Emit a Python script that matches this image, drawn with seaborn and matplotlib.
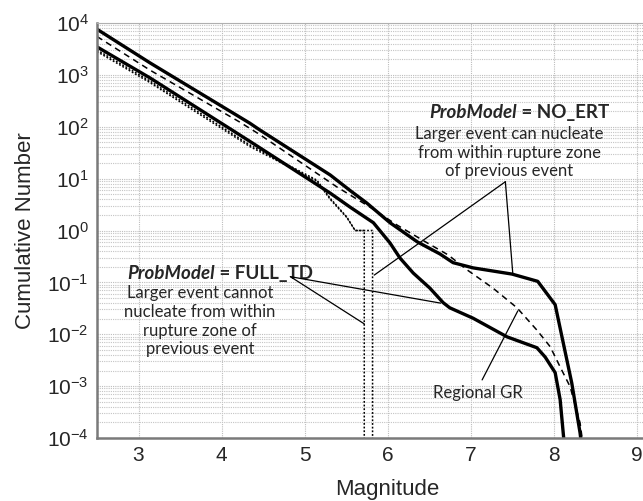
import numpy as np
import pandas as pd
import matplotlib
matplotlib.use("Agg")
import matplotlib.pyplot as plt
import seaborn as sns
from matplotlib.ticker import LogLocator, NullFormatter

# magnitude / log10(cumulative number)
no_ert_mag = [2.5, 3.14, 4.34, 4.46, 5.31, 5.55, 5.75, 6.03, 6.36, 6.63, 6.79, 7.03, 7.5, 7.81, 8.02, 8.11, 8.22, 8.32, 8.35]
no_ert_log = [3.88, 3.23, 2.07, 1.94, 1.07, 0.77, 0.53, 0.15, -0.22, -0.45, -0.62, -0.72, -0.84, -0.98, -1.43, -2.11, -2.94, -3.9, -4.3]

gr_mag = [2.5, 3.14, 4.22, 4.46, 5.39, 5.79, 6.11, 6.48, 6.73, 6.96, 7.27, 7.56, 7.80, 7.96, 8.08, 8.2, 8.32, 8.37]
gr_log = [3.74, 3.09, 2.09, 1.85, 0.84, 0.45, 0.11, -0.24, -0.47, -0.76, -1.11, -1.49, -1.92, -2.24, -2.63, -3.01, -3.71, -4.3]

full_td_mag = [2.5, 3.14, 4.34, 5.31, 5.55, 5.83, 6.03, 6.15, 6.31, 6.51, 6.67, 6.75, 7.03, 7.44, 7.80, 7.90, 8.02, 8.08, 8.14]
full_td_log = [3.54, 2.94, 1.72, 0.72, 0.45, 0.15, -0.24, -0.53, -0.82, -1.11, -1.39, -1.49, -1.69, -2.05, -2.26, -2.44, -2.74, -3.26, -4.3]

# two simulated catalogs (dotted), last event at M5.72 and M5.82
sim1_mag = [2.5, 3.14, 4.34, 5.15, 5.31, 5.51, 5.61, 5.72, 5.72]
sim1_log = [3.48, 2.88, 1.65, 0.97, 0.62, 0.26, 0.0, 0.0, -6.0]
sim2_mag = [2.5, 3.14, 4.34, 5.15, 5.31, 5.51, 5.61, 5.82, 5.82]
sim2_log = [3.45, 2.85, 1.62, 0.95, 0.60, 0.25, 0.0, 0.0, -6.0]

x_ticks = [3, 4, 5, 6, 7, 8, 9]

sns.set_style("white")
plt.rcParams['font.family'] = ['Liberation Sans', 'DejaVu Sans']
ann_font = ['Lato', 'DejaVu Sans']

fig = plt.figure(figsize=(6.43, 5.01), dpi=100)
ax = fig.add_axes([97 / 643, 63 / 501, 581 / 643, 415 / 501])


def draw(mag, logn, **kw):
    df = pd.DataFrame({'mag': mag, 'n': 10.0 ** np.array(logn)})
    sns.lineplot(data=df, x='mag', y='n', ax=ax, estimator=None, sort=False, **kw)


draw(sim1_mag, sim1_log, color='black', lw=1.1, linestyle=(0, (1.2, 1.2)))
draw(sim2_mag, sim2_log, color='black', lw=1.1, linestyle=(0, (1.2, 1.2)))
draw(gr_mag, gr_log, color='black', lw=1.1, linestyle=(0, (4, 3)))
draw(no_ert_mag, no_ert_log, color='black', lw=2.4)
draw(full_td_mag, full_td_log, color='black', lw=2.4)

ax.set_yscale('log')
ax.set_xlim(2.5, 9.5)
ax.set_ylim(1e-4, 1e4)
ax.set_xticks(x_ticks)
ax.yaxis.set_major_locator(LogLocator(base=10, numticks=20))
ax.yaxis.set_minor_locator(LogLocator(base=10, subs=np.arange(2, 10), numticks=20))
ax.yaxis.set_minor_formatter(NullFormatter())
ax.grid(which='major', color='#bdbdbd', lw=0.8, linestyle=(0, (1, 1)))
ax.grid(which='minor', axis='y', color='#c4c4c4', lw=0.8, linestyle=(0, (1, 1)))
ax.tick_params(axis='both', which='both', length=0, labelsize=15, pad=6)
for s in ['left', 'bottom']:
    ax.spines[s].set_color('#7a7a7a')
    ax.spines[s].set_linewidth(1.8)
for s in ['top', 'right']:
    ax.spines[s].set_color('#b0b0b0')
    ax.spines[s].set_linewidth(0.8)

ax.set_xlabel('Magnitude', fontsize=16, labelpad=10)
ax.set_ylabel('Cumulative Number', fontsize=16, labelpad=8)

# annotations
title_kw = dict(va='center', fontsize=13.5, family=ann_font, fontweight='bold')
body_kw = dict(ha='center', va='center', fontsize=12, family=ann_font, linespacing=1.2)

ax.text(7.56, 10 ** 2.27, 'ProbModel', ha='right', fontstyle='italic', **title_kw)
ax.text(7.56, 10 ** 2.27, ' = NO_ERT', ha='left', **title_kw)
ax.text(7.47, 10 ** 1.50, 'Larger event can nucleate\nfrom within rupture zone\nof previous event', **body_kw)

ax.text(3.92, 10 ** -0.82, 'ProbModel', ha='right', fontstyle='italic', **title_kw)
ax.text(3.92, 10 ** -0.82, ' = FULL_TD', ha='left', **title_kw)
ax.text(3.74, 10 ** -1.75, 'Larger event cannot\nnucleate from within\nrupture zone of\nprevious event', **body_kw)

ax.text(7.09, 10 ** -3.13, 'Regional GR', ha='center', va='center', fontsize=12, family=ann_font)

line = dict(arrowstyle='-', color='black', lw=0.9, shrinkA=0, shrinkB=0)
ax.annotate('', xy=(5.84, 10 ** -0.86), xytext=(7.42, 10 ** 0.94), arrowprops=line)
ax.annotate('', xy=(7.51, 10 ** -0.84), xytext=(7.42, 10 ** 0.94), arrowprops=line)
ax.annotate('', xy=(6.64, 10 ** -1.40), xytext=(4.83, 10 ** -0.89), arrowprops=line)
ax.annotate('', xy=(5.72, 10 ** -1.80), xytext=(4.83, 10 ** -0.89), arrowprops=line)
ax.annotate('', xy=(7.57, 10 ** -1.55), xytext=(7.14, 10 ** -2.88), arrowprops=line)

fig.savefig('out.png', dpi=100)
